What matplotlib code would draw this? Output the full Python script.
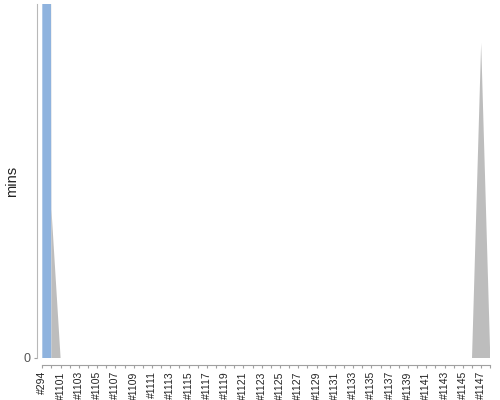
import matplotlib
matplotlib.use("Agg")
import matplotlib.pyplot as plt

plt.rcParams["font.family"] = ["Liberation Sans", "DejaVu Sans"]

# build labels (one per category, only every other one is printed)
builds = ["#294", "#1100", "#1101", "#1102", "#1103", "#1104", "#1105", "#1106",
          "#1107", "#1108", "#1109", "#1110", "#1111", "#1112", "#1113", "#1114",
          "#1115", "#1116", "#1117", "#1118", "#1119", "#1120", "#1121", "#1122",
          "#1123", "#1124", "#1125", "#1126", "#1127", "#1128", "#1129", "#1130",
          "#1131", "#1132", "#1133", "#1134", "#1135", "#1136", "#1137", "#1138",
          "#1139", "#1140", "#1141", "#1142", "#1143", "#1144", "#1145", "#1146",
          "#1147", "#1148"]

# stacked durations in minutes (blue at bottom, grey on top)
blue_mins = [20.0, 0, 0, 0, 0, 0, 0, 0, 0, 0,
             0, 0, 0, 0, 0, 0, 0, 0, 0, 0,
             0, 0, 0, 0, 0, 0, 0, 0, 0, 0,
             0, 0, 0, 0, 0, 0, 0, 0, 0, 0,
             0, 0, 0, 0, 0, 0, 0, 0, 0, 0]
grey_mins = [0, 0.42, 0, 0, 0, 0, 0, 0, 0, 0,
             0, 0, 0, 0, 0, 0, 0, 0, 0, 0,
             0, 0, 0, 0, 0, 0, 0, 0, 0, 0,
             0, 0, 0, 0, 0, 0, 0, 0, 0, 0,
             0, 0, 0, 0, 0, 0, 0, 0, 0.89, 0]

BLUE = "#8fb3de"
GREY = "#bdbdbd"
AXIS = "#b8b8b8"

fig = plt.figure(figsize=(5, 4), dpi=100)
ax = fig.add_axes([42.3 / 500, 42 / 400, 448 / 500, 354 / 400])

x = list(range(len(builds)))
ax.stackplot(x, blue_mins, grey_mins, colors=[BLUE, GREY], linewidth=0)

ax.set_xlim(0, len(builds) - 1)
ax.set_ylim(0, 1)

ax.set_xticks(x)
ax.set_xticklabels([b if i % 2 == 0 else "" for i, b in enumerate(builds)])
ax.set_yticks([0])
ax.set_yticklabels(["0"])
ax.tick_params(axis="x", length=2.5, width=0.8, color="#a0a0a0", pad=2,
               labelrotation=90, labelsize=7.5, labelcolor="#222222")
ax.tick_params(axis="y", length=2.5, width=0.8, color="#a0a0a0", pad=2,
               labelsize=9, labelcolor="#555555")
for t in ax.get_xticklabels():
    t.set_va("top")
    t.set_ha("center")

ax.set_ylabel("mins", fontsize=10.5, color="#222222")
ax.yaxis.set_label_coords(-0.051, 0.5)

for s in ("top", "right"):
    ax.spines[s].set_visible(False)
ax.spines["left"].set_position(("outward", 4))
ax.spines["bottom"].set_position(("outward", 5))
ax.spines["left"].set_color(AXIS)
ax.spines["bottom"].set_color("#a0a0a0")

fig.savefig("out.png", dpi=100)
